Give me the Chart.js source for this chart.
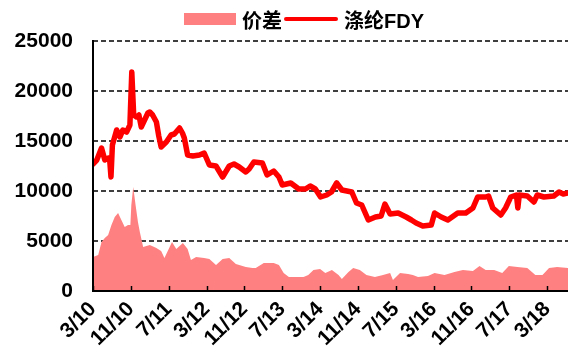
<!DOCTYPE html>
<html>
<head>
<meta charset="utf-8">
<script src="https://cdn.jsdelivr.net/npm/chart.js@4/dist/chart.umd.min.js"></script>
<style>
  html, body { margin: 0; padding: 0; background: #fff; }
  #wrap { position: relative; width: 571px; height: 352px; }
  #legend {
    position: absolute; top: 6px; left: 184px; height: 26px;
    display: flex; align-items: center;
    font-family: "Liberation Sans", "Noto Sans CJK SC", sans-serif;
    font-weight: bold; font-size: 20px; color: #000;
  }
  .box { width: 52px; height: 12px; background: #FF8080; margin-right: 6px; }
  .line { width: 54px; height: 4px; background: #FF0000; border-radius: 2px; margin: 0 6px 0 2px; }
</style>
</head>
<body>
<div id="wrap">
  <canvas id="chart" width="571" height="352"></canvas>
  <div id="legend">
    <span class="box"></span><span>价差</span><span class="line"></span><span>涤纶FDY</span>
  </div>
</div>
<script>
// months counted from 3/10
const tickLabels = ["3/10", "11/10", "7/11", "3/12", "11/12", "7/13", "3/14",
                    "11/14", "7/15", "3/16", "11/16", "7/17", "3/18"];
const yTicks = [0, 5000, 10000, 15000, 20000, 25000];

// 涤纶FDY price
const fdyMonths = [0, 0.8, 1.8, 2.5, 3.2, 3.5, 3.8, 4.1, 5.0, 5.7, 6.3, 7.1, 7.8, 8.2, 8.6,
  9.2, 9.7, 10.2, 10.9, 11.6, 12.0, 12.6, 13.4, 13.9, 14.4, 15.5, 16.5, 17.2, 18.3, 18.9,
  19.3, 20.0, 21.1, 22.5, 23.5, 24.6, 26.0, 27.4, 28.8, 29.8, 30.9, 32.3, 33.0, 34.0, 35.8,
  36.8, 38.2, 39.3, 40.0, 41.8, 43.5, 44.9, 45.9, 47.0, 48.1, 49.4, 50.4, 51.5, 52.6, 54.7,
  55.7, 56.8, 58.2, 59.7, 60.9, 61.7, 62.8, 64.5, 66.2, 67.3, 68.3, 69.7, 71.5, 72.2, 73.6,
  75.0, 77.1, 78.8, 80.3, 81.3, 83.0, 83.6, 84.5, 86.2, 87.2, 88.3, 89.5, 89.8, 90.1, 91.8,
  93.2, 93.9, 95.3, 97.4, 98.5, 99.4, 100.4];
const fdyValues = [12700, 13100, 14300, 13100, 13300, 13300, 11400, 14600, 16100, 15400, 16100,
  15900, 16600, 21900, 17600, 17400, 17600, 16400, 17100, 17800, 17900, 17600, 16900, 15500,
  14400, 14900, 15600, 15700, 16300, 15800, 15300, 13600, 13500, 13600, 13800, 12600, 12500,
  11400, 12500, 12700, 12400, 11900, 12200, 12900, 12800, 11600, 12000, 11400, 10600, 10800,
  10200, 10200, 10500, 10200, 9400, 9600, 9900, 10800, 10100, 9900, 8800, 8600, 7100, 7400,
  7500, 8700, 7700, 7800, 7400, 7100, 6800, 6500, 6600, 7800, 7400, 7100, 7800, 7800, 8300,
  9400, 9400, 9500, 8300, 7600, 8300, 9400, 9600, 8300, 9600, 9500, 8900, 9600, 9400, 9500,
  9900, 9700, 9800];

// 价差 spread
const spreadMonths = [0, 1.1, 1.8, 2.5, 3.2, 3.9, 4.6, 5.3, 6.0, 6.7, 7.4, 7.9, 8.1, 8.5, 9.0,
  9.5, 9.9, 10.6, 12.0, 13.4, 14.4, 15.1, 15.8, 16.7, 17.6, 19.0, 20.0, 20.7, 21.8, 23.5,
  24.6, 26.0, 27.4, 28.8, 30.2, 32.3, 33.7, 34.4, 36.1, 38.2, 39.3, 40.3, 41.4, 43.1, 44.5,
  45.5, 46.6, 48.0, 49.1, 50.5, 51.9, 52.6, 54.0, 55.0, 56.4, 57.8, 59.6, 61.3, 62.8, 63.4,
  64.9, 66.6, 67.6, 68.7, 70.8, 72.2, 74.3, 76.4, 78.2, 80.3, 81.7, 83.0, 84.8, 86.5, 87.9,
  89.7, 91.8, 93.5, 95.0, 96.4, 98.1, 100.4];
const spreadValues = [3400, 3600, 4900, 5300, 5600, 6600, 7400, 7800, 7100, 6400, 6600, 6600,
  8600, 10400, 8600, 6900, 5900, 4400, 4600, 4300, 4000, 3300, 4000, 4900, 4200, 4800, 4200,
  3100, 3400, 3300, 3200, 2600, 3200, 3300, 2700, 2400, 2300, 2300, 2800, 2800, 2600, 1800,
  1400, 1400, 1400, 1600, 2100, 2200, 1800, 2100, 1600, 1200, 1900, 2300, 2100, 1600, 1400,
  1600, 1800, 1100, 1800, 1700, 1600, 1400, 1500, 1800, 1600, 1900, 2100, 2000, 2500, 2100,
  2100, 1800, 2500, 2400, 2300, 1600, 1600, 2300, 2400, 2300];

const pairs = (xs, ys) => xs.map((x, i) => ({ x: x, y: ys[i] }));

// dashed horizontal grid, drawn under the series
const dashedGrid = {
  id: "dashedGrid",
  beforeDatasetsDraw(chart) {
    const { ctx, chartArea, scales } = chart;
    ctx.save();
    ctx.strokeStyle = "#000";
    ctx.lineWidth = 1.5;
    ctx.setLineDash([5, 3]);
    ctx.beginPath();
    for (const v of yTicks) {
      const y = Math.round(scales.y.getPixelForValue(v));
      ctx.moveTo(chartArea.left, y);
      ctx.lineTo(chartArea.right, y);
    }
    ctx.stroke();
    ctx.restore();
  }
};

// short ticks pointing up from the x axis, plus axis lines on top of the fill
const axisOverlay = {
  id: "axisOverlay",
  afterDatasetsDraw(chart) {
    const { ctx, chartArea, scales } = chart;
    ctx.save();
    ctx.strokeStyle = "#000";
    ctx.lineWidth = 1.5;
    ctx.beginPath();
    for (let i = 0; i < tickLabels.length; i++) {
      const x = Math.round(scales.x.getPixelForValue(i * 8)) + 0.5;
      ctx.moveTo(x, chartArea.bottom);
      ctx.lineTo(x, chartArea.bottom - 5);
    }
    ctx.stroke();
    ctx.lineWidth = 2;
    ctx.beginPath();
    ctx.moveTo(chartArea.left, chartArea.top);
    ctx.lineTo(chartArea.left, chartArea.bottom);
    ctx.lineTo(chartArea.right, chartArea.bottom);
    ctx.stroke();
    ctx.restore();
  }
};

const tickFont = { family: "'Liberation Sans', Arial, sans-serif", weight: "bold", size: 21 };

new Chart(document.getElementById("chart"), {
  type: "line",
  data: {
    datasets: [
      {
        label: "涤纶FDY",
        data: pairs(fdyMonths, fdyValues),
        borderColor: "#FF0000",
        borderWidth: 5.5,
        borderJoinStyle: "round",
        borderCapStyle: "round",
        pointRadius: 0,
        fill: false,
        order: 0
      },
      {
        label: "价差",
        data: pairs(spreadMonths, spreadValues),
        backgroundColor: "#FF8080",
        borderWidth: 0,
        pointRadius: 0,
        fill: "origin",
        order: 1
      }
    ]
  },
  options: {
    responsive: false,
    animation: false,
    layout: { padding: { top: 41, right: 0, left: 0, bottom: 0 } },
    plugins: { legend: { display: false }, tooltip: { enabled: false } },
    scales: {
      x: {
        type: "linear",
        min: 0,
        max: 100.4,
        afterFit: (s) => { s.height = 61; },
        afterBuildTicks: (s) => { s.ticks = tickLabels.map((_, i) => ({ value: i * 8 })); },
        grid: { display: false, drawTicks: false },
        border: { display: true, color: "#000", width: 2 },
        ticks: {
          autoSkip: false,
          maxRotation: 45,
          minRotation: 45,
          padding: 6,
          color: "#000",
          font: tickFont,
          callback: (v) => tickLabels[Math.round(v / 8)]
        }
      },
      y: {
        min: 0,
        max: 25000,
        afterFit: (s) => { s.width = 93; },
        afterBuildTicks: (s) => { s.ticks = yTicks.map((v) => ({ value: v })); },
        ticks: { padding: 20, color: "#000", font: tickFont, callback: (v) => String(v) },
        grid: { display: false, drawTicks: false },
        border: { display: true, color: "#000", width: 2 }
      }
    }
  },
  plugins: [dashedGrid, axisOverlay]
});
</script>
</body>
</html>
